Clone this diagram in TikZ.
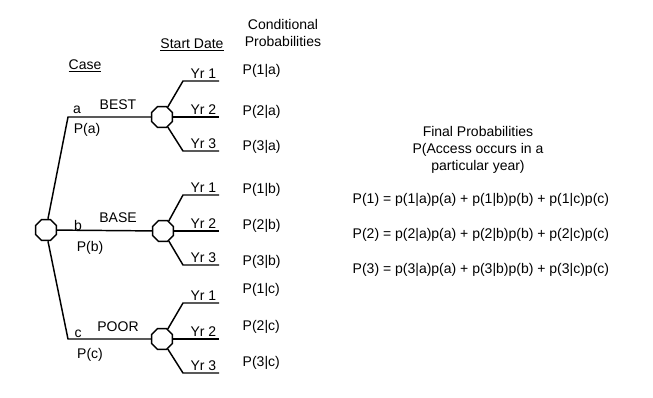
\documentclass[tikz,border=0pt]{standalone}
\usepackage{fontspec}
\setmainfont{Liberation Sans}
\usetikzlibrary{shapes.geometric}

\begin{document}
\begin{tikzpicture}[x=0.75pt, y=-0.75pt, line width=1.1pt, font=\fontsize{10.5}{12.75}\selectfont,
    octa/.style={draw, fill=white, regular polygon, regular polygon sides=8, minimum size=17pt, inner sep=0pt},
    lbl/.style={inner sep=0pt},
    yr/.style={anchor=south east, inner sep=1.5pt}]
  \useasboundingbox (0,0) rectangle (653,397);
  % titoli colonne
  \node[lbl] (case) at (85,66) {\underline{Case}};
  \node[lbl] (start) at (192,45) {\underline{Start Date}};
  \node[lbl, align=center] (cond) at (283,33) {Conditional\\Probabilities};
  % nodo radice e casi
  \node[octa] (root) at (46,230) {};
  \node[octa] (oa) at (162,117) {};
  \node[octa] (ob) at (163,231) {};
  \node[octa] (oc) at (162,339) {};
  \coordinate (ka) at (68,117);
  \coordinate (kc) at (68,339);
  \draw (root.80) -- (ka) -- (oa);
  \draw (root) -- (ob);
  \draw (root.-80) -- (kc) -- (oc);
  % etichette dei casi
  \node[lbl] (la) at (77,110) {a};
  \node[lbl] (na) at (118,105) {BEST};
  \node[lbl] (pa) at (87,130) {P(a)};
  \node[lbl] (lb) at (78,225) {b};
  \node[lbl] (nb) at (118,218) {BASE};
  \node[lbl] (pb) at (90,248) {P(b)};
  \node[lbl] (lc) at (78,334) {c};
  \node[lbl] (nc) at (118,327) {POOR};
  \node[lbl] (pc) at (90,355) {P(c)};
  % anni di inizio
  \foreach \c/\y in {a/117, b/231, c/339} {
    \coordinate (\c k1) at (183,\y-36);
    \coordinate (\c e1) at (219,\y-36);
    \coordinate (\c e2) at (219,\y);
    \coordinate (\c k3) at (183,\y+34);
    \coordinate (\c e3) at (219,\y+34);
    \draw (o\c.60) -- (\c k1) -- (\c e1) node[yr] (\c y1) {Yr 1};
    \draw (o\c) -- (\c e2) node[yr] (\c y2) {Yr 2};
    \draw (o\c.-60) -- (\c k3) -- (\c e3) node[yr] (\c y3) {Yr 3};
  }
  % probabilita condizionali
  \foreach \k/\c/\y in {1/a/71, 2/a/112, 3/a/147, 1/b/190, 2/b/226, 3/b/262, 1/c/290, 2/c/327, 3/c/363}
    \node[lbl, anchor=west] (p\k\c) at (242,\y) {P(\k|\c)};
  % probabilita finali
  \node[lbl, align=center] (final) at (478,150) {Final Probabilities\\P(Access occurs in a\\particular year)};
  \foreach \k/\y in {1/200, 2/235, 3/270}
    \node[lbl, anchor=west] (eq\k) at (352,\y) {P(\k) = p(\k|a)p(a) + p(\k|b)p(b) + p(\k|c)p(c)};
\end{tikzpicture}
\end{document}
